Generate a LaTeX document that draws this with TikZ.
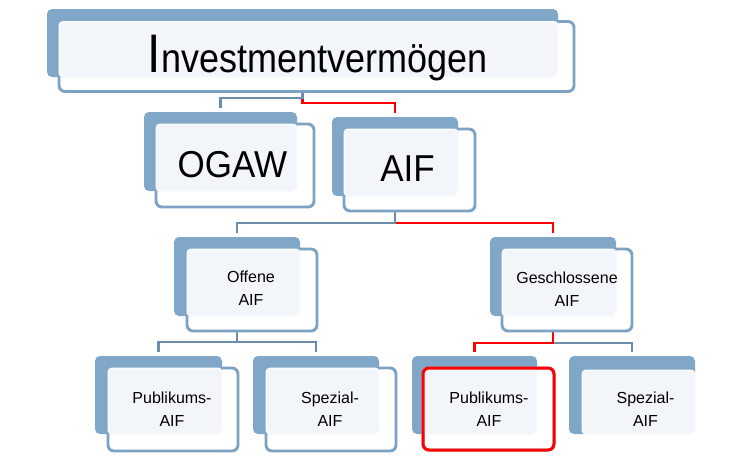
\documentclass[tikz,border=0pt]{standalone}
\usepackage{fontspec}
\setmainfont{Liberation Sans}
\usepackage{graphicx}
\usetikzlibrary{backgrounds,calc}
\definecolor{backblue}{HTML}{80A7C8}
\definecolor{edgeblue}{HTML}{7DA2C3}
\definecolor{conblue}{HTML}{6C8DAB}
\definecolor{lightbg}{HTML}{F2F6FA}
\definecolor{hired}{HTML}{FF0000}
\newcommand{\orgbox}[9]{%
  \node[frontbox, minimum width={(#8)-(#6)}, minimum height={(#9)-(#7)}] (#1f) at ({((#6)+(#8))/2},{((#7)+(#9))/2}) {};
  \node[backbox, minimum width={(#4)-(#2)}, minimum height={(#5)-(#3)}] (#1b) at ({((#2)+(#4))/2},{((#3)+(#5))/2}) {};
  \draw[lightbox] (#1f.north west) rectangle (#1b.south east);
}
\begin{document}
\begin{tikzpicture}[x=1pt,y=-1pt,
  frontbox/.style={rectangle, draw=edgeblue, line width=2.9pt, fill=white, rounded corners=6pt, inner sep=0pt, outer sep=0pt},
  backbox/.style={rectangle, fill=backblue, rounded corners=5pt, inner sep=0pt, outer sep=0pt},
  lightbox/.style={fill=lightbg, draw=white, line width=1pt, rounded corners=4pt},
  bluelink/.style={draw=conblue, line width=2.6pt},
  redlink/.style={draw=hired, line width=2.6pt},
  redframe/.style={draw=hired, line width=3pt, rounded corners=6pt},
  bigtext/.style={inner sep=0pt, anchor=base, font=\fontsize{35}{35}\selectfont},
  smalltext/.style={inner sep=0pt, anchor=center, align=center, font=\fontsize{16}{23}\selectfont}]
\useasboundingbox (0,0) rectangle (731,459);

\orgbox{top}{47}{9}{558}{77}{59}{21.5}{574}{91.5}
\orgbox{ogaw}{144}{112}{297}{191}{156}{124}{314}{207}
\orgbox{aif}{332}{117}{458}{196}{344}{129}{475}{211}
\orgbox{off}{174}{237}{300}{316}{187}{249}{317}{331}
\orgbox{ges}{490}{237}{616}{316}{502}{249}{632}{331}
\orgbox{publ}{95}{356}{222}{434}{108}{368}{238}{451}
\orgbox{spel}{253}{356}{379}{434}{266}{368}{396}{451}
\orgbox{pubr}{412}{356}{537}{434}{423}{368}{554}{450}
\begin{scope}[frontbox/.append style={draw=none}]
\orgbox{sper}{569}{356}{695}{434}{582}{370}{712}{451}
\end{scope}
\draw[redframe] (pubrf.north west) rectangle (pubrf.south east);

\begin{pgfonlayer}{background}
\fill[white] (0,0) rectangle (731,459);
\draw[redlink] (topb.center |- topf.south) -- ++(0,11.5) -| ([yshift=4pt]aifb.north);
\draw[bluelink] (topb.center |- topf.south) -- ++(0,6.5) -| ([yshift=4pt]ogawb.north);
\draw[redlink] (aifb.center |- aiff.south) -- ++(0,12) -| ([yshift=4pt]gesb.north);
\draw[bluelink] (aifb.center |- aiff.south) -- ++(0,12) -| ([yshift=4pt]offb.north);
\draw[bluelink] (offb.center |- offf.south) -- ++(0,11) -| ([yshift=4pt]publb.north);
\draw[bluelink] (offb.center |- offf.south) -- ++(0,11) -| ([yshift=4pt]spelb.north);
\draw[bluelink] (gesb.center |- gesf.south) -- ++(0,12) -| ([yshift=4pt]sperb.north);
\draw[redlink] (gesb.center |- gesf.south) -- ++(0,12) -| ([yshift=4pt]pubrb.north);
\end{pgfonlayer}

\node[bigtext, anchor=base west] (tinv) at (147.5,72) {\scalebox{1}[1.13]{{\fontsize{48}{48}\selectfont I}\fontsize{36}{36}\selectfont nvestmentvermögen}};
\node[bigtext] (togaw) at (232.5,177) {\scalebox{1}[1.07]{OGAW}};
\node[bigtext] (taif) at (407.5,181) {\scalebox{1}[1.07]{AIF}};
\node[smalltext] (toff) at (251,288.7) {Offene\\AIF};
\node[smalltext] (tges) at (567,288.7) {Geschlossene\\AIF};
\node[smalltext] (tpubl) at (172,408.7) {Publikums-\\AIF};
\node[smalltext] (tspel) at (330,408.7) {Spezial-\\AIF};
\node[smalltext] (tpubr) at (489,408.7) {Publikums-\\AIF};
\node[smalltext] (tsper) at (645.5,408.7) {Spezial-\\AIF};
\end{tikzpicture}
\end{document}
